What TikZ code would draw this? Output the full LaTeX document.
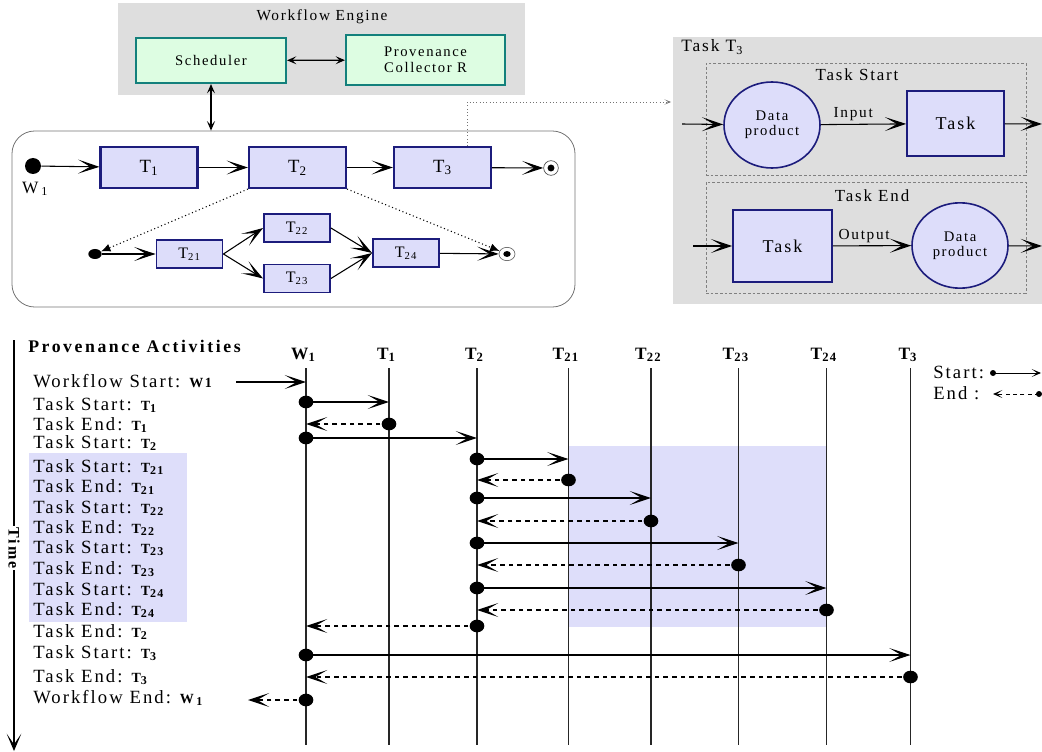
\documentclass[tikz,border=0pt]{standalone}
\usepackage{fontspec}
\setmainfont{Liberation Serif}[LetterSpace=11]
\usetikzlibrary{arrows.meta,shapes.geometric,calc}
\definecolor{panelgray}{HTML}{DEDEDE}
\definecolor{mint}{HTML}{DDFDE2}
\definecolor{tealb}{HTML}{13807C}
\definecolor{lav}{HTML}{DDDDFA}
\definecolor{navy}{HTML}{1C1C7C}
\definecolor{hl}{HTML}{DEDEFA}
\newcommand\fs[1]{\fontsize{#1}{#1}\selectfont}
\newcommand\bT[1]{{\bfseries\fs{10.5}T\raisebox{-2.2pt}{\fs{9}#1}}}
\newcommand\hT[1]{{\bfseries\fs{13}T\raisebox{-2.2pt}{\fs{9.5}#1}}}
\tikzset{
  sar/.style={-{Stealth[length=16pt,width=10.5pt,inset=9pt]}, line width=0.8pt},
  dar/.style={{Stealth[length=7pt,width=6pt,inset=3pt]}-{Stealth[length=7pt,width=6pt,inset=3pt]}, line width=0.9pt},
  dotar/.style={dotted, line width=0.8pt, -{Latex[length=7pt,width=6pt]}},
  lar/.style={-{Stealth[length=7pt,width=6pt,inset=4pt]}, line width=0.7pt},
  greenbox/.style={draw=tealb, fill=mint, line width=1.6pt, inner sep=0pt, align=center, font=\fs{11}},
  tbox/.style={draw=navy, fill=lav, line width=1.6pt, inner sep=0pt, font=\fs{14}},
  sbox/.style={draw=navy, fill=lav, line width=1.4pt, inner sep=0pt, font=\fs{12}},
  dpell/.style={ellipse, draw=navy, fill=lav, line width=1.2pt, inner sep=0pt, align=center, font=\fs{11}},
  dashbox/.style={draw=gray, dash pattern=on 2pt off 1.5pt, line width=0.5pt, inner sep=0pt},
  sdot/.style={ellipse, fill=black, minimum width=11pt, minimum height=9.5pt, inner sep=0pt},
  ldot/.style={circle, fill=black, minimum size=4.5pt, inner sep=0pt},
  vline/.style={line width=0.8pt, black!85},
  rowlab/.style={anchor=base west, font=\fs{14}, inner sep=0pt},
  hdr/.style={anchor=base, font=\bfseries\fs{13}, inner sep=0pt},
}
\newcommand\goRow[4]{\node[sdot] (#1s) at (#2,#4) {};\coordinate (#1t) at (#3,#4);\draw[sar] (#1s.center) -- (#1t);}
\newcommand\backRow[4]{\node[sdot] (#1s) at (#2,#4) {};\coordinate (#1t) at (#3,#4);\draw[sar,dashed,dash pattern=on 3.5pt off 3pt] (#1s.center) -- (#1t);}
\begin{document}
\begin{tikzpicture}[x=0.75pt,y=-0.75pt]
\useasboundingbox (0,0) rectangle (1042,752);
% ---------- Workflow engine ----------
\fill[panelgray] (118,3) rectangle (525,95);
\node[font=\fs{11.5}] (engt) at (322,17) {Workflow Engine};
\node[draw=black!55, line width=0.6pt, rounded corners=17pt, minimum width=422.25pt, minimum height=132pt] (wf) at (293.5,219) {};
\node[greenbox, minimum width=112.5pt, minimum height=33.75pt] (sched) at (211,60.5) {Scheduler};
\node[greenbox, minimum width=119.25pt, minimum height=37.5pt] (prov) at (425.5,60) {Provenance\\[1pt]Collector R};
\draw[dar] (sched) -- (prov);
\draw[dar] (sched.south) -- (sched.south |- wf.north);
% main workflow
\node[circle, fill=black, minimum size=12pt, inner sep=0pt] (w1) at (33,166) {};
\node[font=\fs{13}] (w1l) at (35,189) {W\,\textsubscript{1}};
\node[tbox, minimum width=72.75pt, minimum height=30.75pt] (t1) at (149,167.5) {T\textsubscript{1}};
\node[tbox, minimum width=72.75pt, minimum height=30.75pt] (t2) at (297.5,167.5) {T\textsubscript{2}};
\node[tbox, minimum width=72.75pt, minimum height=30.75pt] (t3) at (442.5,167.5) {T\textsubscript{3}};
\node[circle, draw=black!70, line width=0.5pt, minimum size=11pt, inner sep=0pt] (e1) at (551,168) {};
\fill (e1.center) circle (2.6pt);
\draw[sar] (w1) -- (t1);
\draw[sar] (t1) -- (t2);
\draw[sar] (t2) -- (t3);
\draw[sar] (t3) -- (e1);
% sub workflow
\node[ellipse, fill=black, minimum width=10pt, minimum height=7.5pt, inner sep=0pt] (s0) at (95,254) {};
\node[sbox, minimum width=49.5pt, minimum height=21pt] (t21) at (189.5,254) {T\textsubscript{21}};
\node[sbox, minimum width=49.5pt, minimum height=21pt] (t22) at (297,228) {T\textsubscript{22}};
\node[sbox, minimum width=49.5pt, minimum height=21pt] (t23) at (297,278.5) {T\textsubscript{23}};
\node[sbox, minimum width=49.5pt, minimum height=21pt] (t24) at (406,253) {T\textsubscript{24}};
\node[ellipse, draw=black!60, line width=0.5pt, minimum width=12pt, minimum height=10pt, inner sep=0pt] (s1) at (507,254) {};
\fill (s1.center) ellipse (2.8pt and 2.2pt);
\draw[sar] (s0) -- (t21);
\draw[sar] (t21.east) -- (t22.west);
\draw[sar] (t21.east) -- (t23.west);
\draw[sar] (t22.east) -- (t24.west);
\draw[sar] (t23.east) -- (t24.west);
\draw[sar] (t24) -- (s1);
\draw[dotar] (t2.south west) -- (s0);
\draw[dotar] (t2.south east) -- (s1);
% link to T3 detail
\coordinate (lk) at (671,102);
\draw[dotted, black!55, line width=0.5pt, -{Stealth[length=5pt,width=4pt,inset=3pt]}] ($(t3.north)+(24.5,0)$) |- (lk);
% ---------- Task T3 panel ----------
\fill[panelgray] (673,37) rectangle (1042,304);
\node[anchor=west, font=\fs{13}, inner sep=0pt] (t3t) at (681,47) {Task T\textsubscript{3}};
\node[dashbox, minimum width=240pt, minimum height=84pt] (stbox) at (866,119) {};
\node[dashbox, minimum width=240pt, minimum height=83.25pt] (enbox) at (866,237.5) {};
\node[font=\fs{12.7}] (stt) at (857,75) {Task Start};
\node[font=\fs{12.7}] (ent) at (872,196) {Task End};
\node[dpell, minimum width=72pt, minimum height=64.5pt] (dp1) at (772,125) {Data\\product};
\node[tbox, line width=1.2pt, font=\fs{13.5}, minimum width=72.75pt, minimum height=48.75pt] (task1) at (955.5,123.5) {Task};
\coordinate (in1) at (682,124);
\coordinate (out1) at (1042,124);
\draw[sar] (in1) -- (dp1);
\draw[sar] (dp1) -- node[pos=0.38, above, inner sep=2pt, font=\fs{11.5}] {Input} (task1);
\draw[sar] (task1) -- (out1);
\node[tbox, line width=1.2pt, font=\fs{13.5}, minimum width=74.25pt, minimum height=54pt] (task2) at (782.5,246) {Task};
\node[dpell, minimum width=72pt, minimum height=64pt] (dp2) at (960,245.5) {Data\\product};
\coordinate (in2) at (693,246);
\coordinate (out2) at (1042,246);
\draw[sar] (in2) -- (task2);
\draw[sar] (task2) -- node[pos=0.4, above, inner sep=2pt, font=\fs{11.5}] {Output} (dp2);
\draw[sar] (dp2) -- (out2);
% ---------- Provenance activities ----------
\fill[hl] (29,453) rectangle (187,622);
\fill[hl] (569,446) rectangle (827,627);
\coordinate (ttop) at (14,340);
\coordinate (tbot) at (14,751);
\draw[line width=0.8pt, -{Stealth[length=13pt,width=11pt,inset=8pt]}] (ttop) -- (tbot);
\node[rotate=-90, fill=white, font=\bfseries\fs{12}, inner sep=1.5pt] (time) at (14,548) {Time};
\node[anchor=base west, font=\bfseries\fs{13.3}\addfontfeature{LetterSpace=14.5}, inner sep=0pt] (pa) at (28,352) {Provenance Activities};
\foreach \n/\x/\l in {W/306/{W\raisebox{-2.2pt}{\fs{9.5}1}}, A/389/\hT{1}, B/477/\hT{2}, C/568.5/\hT{21}, D/651/\hT{22}, E/738.5/\hT{23}, F/826.5/\hT{24}, G/910.5/\hT{3}}{
  \node[hdr] (h\n) at (\x-3,359) {\l};
  \coordinate (c\n) at (\x,368);
  \coordinate (b\n) at (\x,745);
  \draw[vline] (c\n) -- (b\n);
}
% row labels
\node[rowlab] (r1) at (33,387) {Workflow Start: {\bfseries\fs{10.5}W1}};
\node[rowlab] (r2) at (33,410) {Task Start: \bT{1}};
\node[rowlab] (r3) at (33,430) {Task End: \bT{1}};
\node[rowlab] (r4) at (33,448) {Task Start: \bT{2}};
\node[rowlab] (r5) at (33,472) {Task Start: \bT{21}};
\node[rowlab] (r6) at (33,492) {Task End: \bT{21}};
\node[rowlab] (r7) at (33,513) {Task Start: \bT{22}};
\node[rowlab] (r8) at (33,533) {Task End: \bT{22}};
\node[rowlab] (r9) at (33,553) {Task Start: \bT{23}};
\node[rowlab] (r10) at (33,574) {Task End: \bT{23}};
\node[rowlab] (r11) at (33,595) {Task Start: \bT{24}};
\node[rowlab] (r12) at (33,615) {Task End: \bT{24}};
\node[rowlab] (r13) at (33,637) {Task End: \bT{2}};
\node[rowlab] (r14) at (33,658) {Task Start: \bT{3}};
\node[rowlab] (r15) at (33,682) {Task End: \bT{3}};
\node[rowlab] (r16) at (33,703) {Workflow End: {\bfseries\fs{10.5}W\,\raisebox{-2.2pt}{\fs{9}1}}};
% arrows
\coordinate (wsa) at (236,382);
\coordinate (wsb) at (306,382);
\draw[sar] (wsa) -- (wsb);
\goRow{a2}{306}{389}{402}
\backRow{a3}{389}{306}{424}
\goRow{a4}{306}{477}{438}
\goRow{a5}{477}{568.5}{459}
\backRow{a6}{568.5}{477}{480}
\goRow{a7}{477}{651}{498}
\backRow{a8}{651}{477}{521}
\goRow{a9}{477}{738.5}{543}
\backRow{a10}{738.5}{477}{565}
\goRow{a11}{477}{826.5}{588}
\backRow{a12}{826.5}{477}{610}
\backRow{a13}{477}{306}{626}
\goRow{a14}{306}{910.5}{655}
\backRow{a15}{910.5}{306}{677}
\backRow{a16}{306}{248}{700}
% legend
\node[anchor=base west, font=\fs{14}, inner sep=0pt] (lgs) at (933,378) {Start:};
\node[anchor=base west, font=\fs{14}, inner sep=0pt] (lge) at (933,399) {End :};
\node[ldot] (ld1) at (993,373) {};
\coordinate (la1) at (1041,373);
\draw[lar] (ld1.center) -- (la1);
\node[ldot] (ld2) at (1039,394) {};
\coordinate (la2) at (993,394);
\draw[lar, dashed, dash pattern=on 3pt off 2.5pt] (ld2.center) -- (la2);
\end{tikzpicture}
\end{document}
